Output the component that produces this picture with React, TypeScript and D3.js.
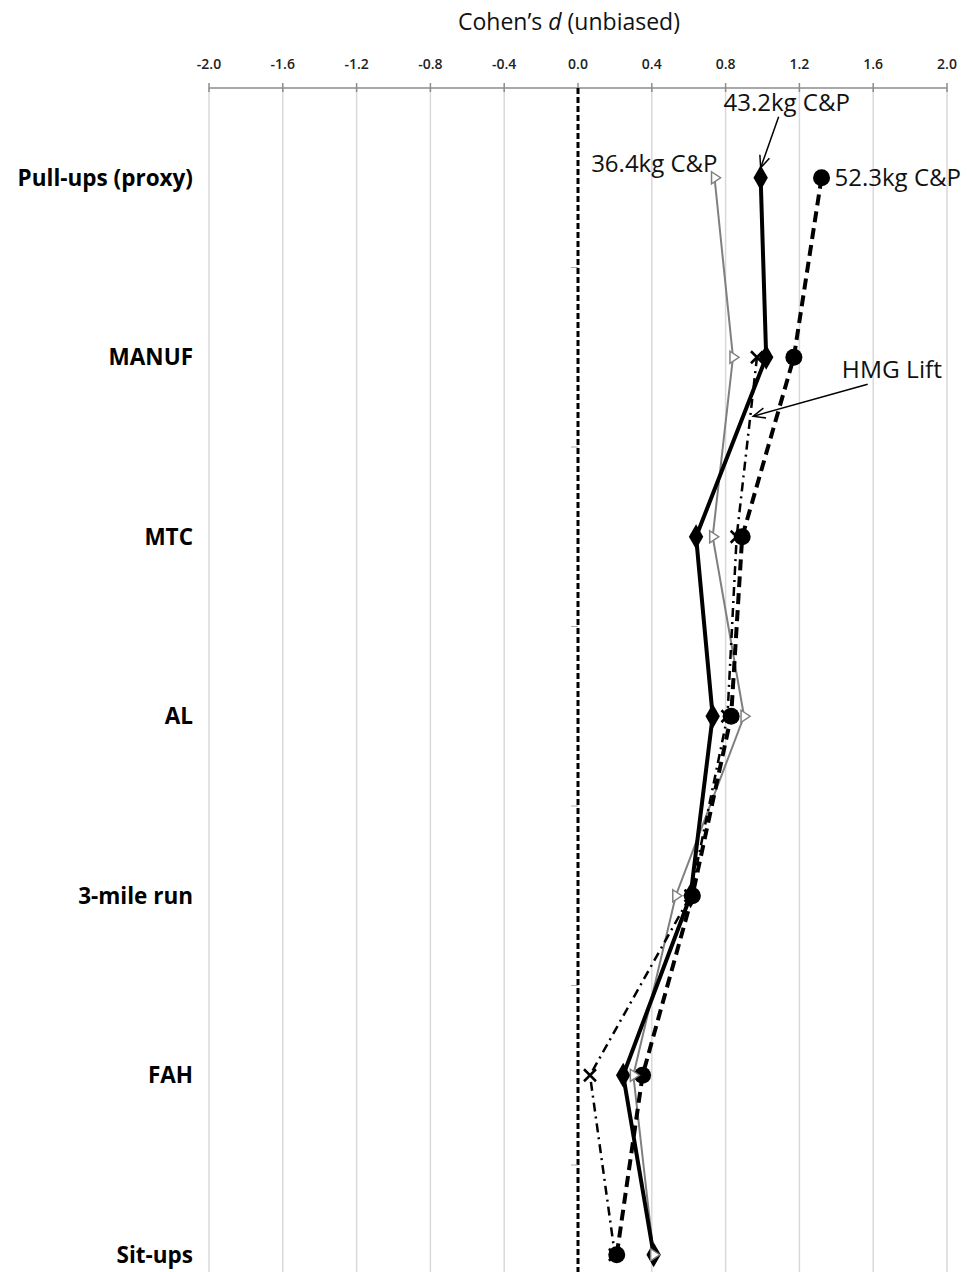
import React from "react";
import * as d3 from "d3";

// categories top to bottom
const categories = ["Pull-ups (proxy)", "MANUF", "MTC", "AL", "3-mile run", "FAH", "Sit-ups"];
const xTicks = [-2.0, -1.6, -1.2, -0.8, -0.4, 0.0, 0.4, 0.8, 1.2, 1.6, 2.0];

// Cohen's d per test, one array per load
const cp364 = [0.74, 0.84, 0.73, 0.9, 0.53, 0.3, 0.41];
const cp432 = [0.99, 1.02, 0.64, 0.73, 0.61, 0.245, 0.41];
const cp523 = [1.32, 1.17, 0.89, 0.83, 0.62, 0.35, 0.21];
const hmgLift: (number | null)[] = [null, 0.97, 0.86, 0.81, 0.61, 0.065, 0.2];

const W = 968;
const H = 1272;
const FONT = "'Open Sans', Lato, sans-serif";

export default function App() {
  const x = d3.scaleLinear().domain([-2, 2]).range([209, 947]);
  const band = d3.scaleBand().domain(categories).range([88, 88 + 7 * 179.5]).padding(0);
  const y = (c: string) => (band(c) as number) + band.bandwidth() / 2;

  const mkLine = (vals: (number | null)[]) =>
    d3
      .line<number | null>()
      .defined((d) => d !== null)
      .x((d) => x(d as number))
      .y((_, i) => y(categories[i]))(vals) || "";

  const pts = (vals: (number | null)[]) =>
    vals
      .map((v, i) => ({ v, c: categories[i] }))
      .filter((p) => p.v !== null) as { v: number; c: string }[];

  const diamond = d3.symbol().type(d3.symbolDiamond).size(180)() || "";
  const tri = "M-3,-6 L6,0 L-3,6 Z";

  const arrowHead = (x1: number, y1: number, x2: number, y2: number) => {
    const a = Math.atan2(y2 - y1, x2 - x1);
    const l = 13;
    const s = 0.4;
    return `M${x2 - l * Math.cos(a - s)},${y2 - l * Math.sin(a - s)} L${x2},${y2} L${x2 - l * Math.cos(a + s)},${y2 - l * Math.sin(a + s)}`;
  };

  const yPull = y(categories[0]);
  const yManuf = y(categories[1]);
  const yMtc = y(categories[2]);

  // annotation anchors derived from data
  const a432 = { x1: x(cp432[0]) + 18, y1: yPull - 61, x2: x(cp432[0]), y2: yPull - 10 };
  const hmgMidY = yManuf + 60;
  const hmgMidX = x(hmgLift[1] as number) + ((hmgLift[2] as number) - (hmgLift[1] as number)) * (60 / (yMtc - yManuf)) * 184.5;
  const aHmg = { x1: x(1.57), y1: yManuf + 27, x2: hmgMidX + 3, y2: hmgMidY - 1 };

  return (
    <svg width={W} height={H} style={{ position: "absolute", left: 0, top: 0, background: "#fff" }}>
      <rect width={W} height={H} fill="#fff" />
      {/* title */}
      <text x={x(0) - 9} y={30} textAnchor="middle" fontFamily={FONT} fontSize={23} fill="#111">
        Cohen’s <tspan fontStyle="italic">d</tspan> (unbiased)
      </text>

      {/* gridlines */}
      {xTicks.map((t) =>
        t === 0 ? null : (
          <line key={"g" + t} x1={x(t)} x2={x(t)} y1={88} y2={H} stroke="#d9d9d9" strokeWidth={1.5} />
        )
      )}
      {/* axis */}
      <line x1={x(-2)} x2={x(2)} y1={88} y2={88} stroke="#8c8c8c" strokeWidth={1.5} />
      {xTicks.map((t) => (
        <g key={"t" + t}>
          <line x1={x(t)} x2={x(t)} y1={83} y2={92} stroke="#8c8c8c" strokeWidth={1.5} />
          <text x={x(t)} y={69} textAnchor="middle" fontFamily={FONT} fontWeight={600} fontSize={14} fill="#222">
            {t.toFixed(1)}
          </text>
        </g>
      ))}

      {/* zero line */}
      <line x1={x(0)} x2={x(0)} y1={88} y2={H} stroke="#000" strokeWidth={3} strokeDasharray="6,3" />
      {categories.slice(1).map((c) => (
        <line key={"ct" + c} x1={x(0) - 7} x2={x(0)} y1={band(c) as number} y2={band(c) as number} stroke="#aaa" strokeWidth={1} />
      ))}

      {/* category labels */}
      {categories.map((c) => (
        <text key={c} x={193} y={y(c)} dy="0.35em" textAnchor="end" fontFamily={FONT} fontWeight="bold" fontSize={22.5} fill="#000">
          {c}
        </text>
      ))}

      {/* 36.4kg series */}
      <path d={mkLine(cp364)} fill="none" stroke="#7f7f7f" strokeWidth={2} />
      {/* HMG lift */}
      <path d={mkLine(hmgLift)} fill="none" stroke="#000" strokeWidth={2.5} strokeDasharray="9,5,2,5" />
      {/* 52.3kg */}
      <path d={mkLine(cp523)} fill="none" stroke="#000" strokeWidth={4} strokeDasharray="11,6" />
      {/* 43.2kg */}
      <path d={mkLine(cp432)} fill="none" stroke="#000" strokeWidth={4} />

      {pts(hmgLift).map((p) => (
        <g key={"x" + p.c} transform={`translate(${x(p.v)},${y(p.c)})`}>
          <path d="M-6,-6 L6,6 M-6,6 L6,-6" stroke="#000" strokeWidth={2.5} />
        </g>
      ))}
      {pts(cp523).map((p) => (
        <circle key={"c" + p.c} cx={x(p.v)} cy={y(p.c)} r={8.5} fill="#000" />
      ))}
      {pts(cp432).map((p) => (
        <path key={"d" + p.c} d={diamond} transform={`translate(${x(p.v)},${y(p.c)})`} fill="#000" />
      ))}
      {pts(cp364).map((p) => (
        <path key={"tr" + p.c} d={tri} transform={`translate(${x(p.v)},${y(p.c)})`} fill="#fff" stroke="#7f7f7f" strokeWidth={1.5} />
      ))}

      {/* annotations */}
      <text x={x(cp432[0]) + 26} y={yPull - 67} textAnchor="middle" fontFamily={FONT} fontSize={24} fill="#111">
        43.2kg C&amp;P
      </text>
      <line x1={a432.x1} y1={a432.y1} x2={a432.x2} y2={a432.y2} stroke="#000" strokeWidth={1.5} />
      <path d={arrowHead(a432.x1, a432.y1, a432.x2, a432.y2)} fill="none" stroke="#000" strokeWidth={1.5} />

      <text x={x(cp364[0]) + 3} y={yPull - 6} textAnchor="end" fontFamily={FONT} fontSize={24} fill="#111">
        36.4kg C&amp;P
      </text>

      <text x={x(cp523[0]) + 13} y={yPull} dy="0.35em" textAnchor="start" fontFamily={FONT} fontSize={24} fill="#111">
        52.3kg C&amp;P
      </text>

      <text x={x(1.43)} y={yManuf + 12} dy="0.35em" textAnchor="start" fontFamily={FONT} fontSize={24.5} fill="#111">
        HMG Lift
      </text>
      <line x1={aHmg.x1} y1={aHmg.y1} x2={aHmg.x2} y2={aHmg.y2} stroke="#000" strokeWidth={1.5} />
      <path d={arrowHead(aHmg.x1, aHmg.y1, aHmg.x2, aHmg.y2)} fill="none" stroke="#000" strokeWidth={1.5} />
    </svg>
  );
}
